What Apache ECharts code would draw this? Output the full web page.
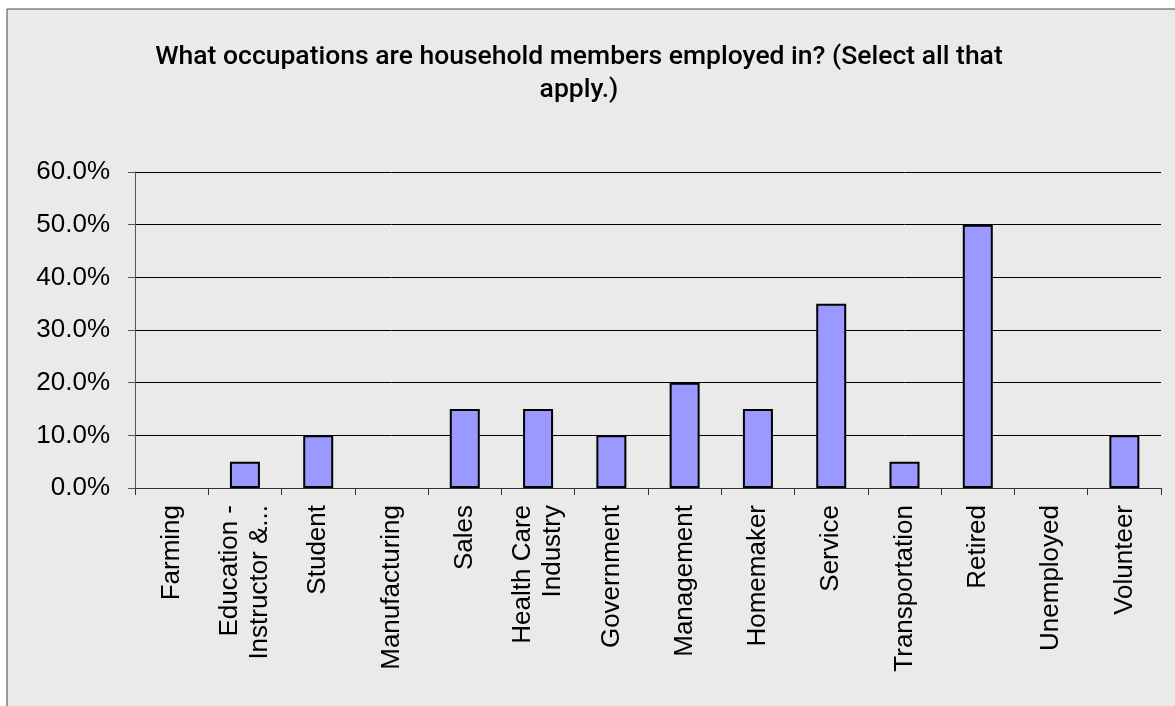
<!DOCTYPE html>
<html><head><meta charset="utf-8">
<script src="https://cdn.jsdelivr.net/npm/echarts@6/dist/echarts.min.js"></script>
<style>html,body{margin:0;padding:0;background:#fff}#c{width:1175px;height:706px}</style>
</head><body><div id="c"></div>
<script>
const titleText = "What occupations are household members employed in? (Select all that\napply.)";
const categories = ["Farming","Education -\nInstructor &...","Student","Manufacturing","Sales","Health Care\nIndustry","Government","Management","Homemaker","Service","Transportation","Retired","Unemployed","Volunteer"];
const values = [0,5,10,0,15,15,10,20,15,35,5,50,0,10];
const yTicks = {min:0,max:60,interval:10};

const chart = echarts.init(document.getElementById('c'));
chart.setOption({
  backgroundColor:'#fff',
  animation:false,
  graphic:[{type:'rect',z:-10,shape:{x:7,y:9,width:1200,height:800},style:{fill:'#EAEAEA',stroke:'#444',lineWidth:1}}],
  title:{text:titleText,left:574,top:36,textAlign:'center',textStyle:{fontFamily:'Roboto',fontSize:26.5,fontWeight:500,color:'#000',lineHeight:33}},
  grid:{left:135,right:14,top:172,bottom:218,containLabel:false},
  xAxis:{type:'category',data:categories,
    axisLine:{lineStyle:{color:'#333',width:1}},
    axisTick:{show:true,length:7,lineStyle:{color:'#333'}},
    axisLabel:{rotate:90,interval:0,margin:17,fontFamily:'Liberation Sans',fontSize:26,color:'#000',lineHeight:30,align:'right',verticalAlign:'middle'}},
  yAxis:{type:'value',min:yTicks.min,max:yTicks.max,interval:yTicks.interval,
    axisLine:{show:true,lineStyle:{color:'#555'}},
    axisTick:{show:true,length:7,lineStyle:{color:'#555'}},
    splitLine:{show:true,lineStyle:{color:'#000',width:1}},
    axisLabel:{formatter:v=>v.toFixed(1)+'%',margin:25,fontFamily:'Liberation Sans',fontSize:26,color:'#000'}},
  series:[{type:'bar',data:values.map(v=>v===0?null:v),barWidth:30,itemStyle:{color:'#9999FF',borderColor:'#000',borderWidth:2}}]
});
</script></body></html>
